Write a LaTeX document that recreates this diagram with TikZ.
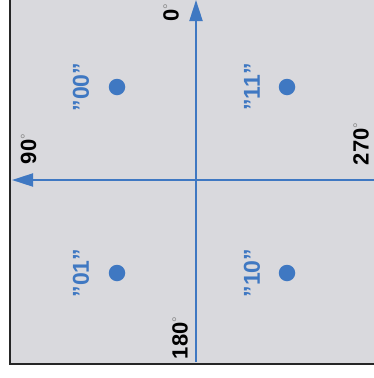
\documentclass[tikz,border=0pt]{standalone}
\usepackage{fontspec}
\setmainfont{Liberation Sans}
\usetikzlibrary{arrows.meta}
\definecolor{bggray}{HTML}{D9D9DD}
\definecolor{axblue}{HTML}{3F78C2}
\definecolor{degray}{HTML}{8A8A8A}
\newcommand{\dg}{{\fontsize{14}{14}\selectfont\mdseries\color{degray}\raisebox{0.75ex}{°}}}
\newcommand{\qq}{\char"0022\relax}
\tikzset{
  axis/.style={draw=axblue, line width=2pt, -{Triangle[width=13pt,length=21pt]}},
  dot/.style={circle, fill=axblue, inner sep=0pt, minimum size=16.5pt},
  symlabel/.style={text=axblue, font=\fontsize{23}{23}\selectfont\bfseries, rotate=90, inner sep=0pt},
  anglabel/.style={text=black, font=\fontsize{22}{22}\selectfont\bfseries, rotate=90, inner sep=0pt},
}
\begin{document}
\begin{tikzpicture}[x=1pt,y=-1pt]
\useasboundingbox (0,0) rectangle (374,378);
\fill[white] (0,0) rectangle (374,378);
\fill[bggray] (10,-2) rectangle (376,364);
\draw[line width=2.2pt, color=black!85, line cap=rect] (10,-2) -- (10,364) -- (376,364);
% axes
\coordinate (vbot) at (196,362);
\coordinate (vtop) at (196,0);
\coordinate (hright) at (376,180);
\coordinate (hleft) at (12,180);
\draw[axis] (vbot) -- (vtop);
\draw[axis] (hright) -- (hleft);
% dots
\node[dot] (d00) at (117,87) {};
\node[dot] (d11) at (287,87) {};
\node[dot] (d01) at (117,273) {};
\node[dot] (d10) at (287,273) {};
% symbol labels
\node[symlabel] (l00) at (81,87) {\qq00\qq};
\node[symlabel] (l11) at (252,87) {\qq11\qq};
\node[symlabel] (l01) at (81,273) {\qq01\qq};
\node[symlabel] (l10) at (252,273) {\qq10\qq};
% angle labels
\node[anglabel] (a0) at (171,13) {0\dg};
\node[anglabel] (a90) at (28.5,149) {90\dg};
\node[anglabel] (a270) at (361,144) {270\dg};
\node[anglabel] (a180) at (180,338) {180\dg};
\end{tikzpicture}
\end{document}
